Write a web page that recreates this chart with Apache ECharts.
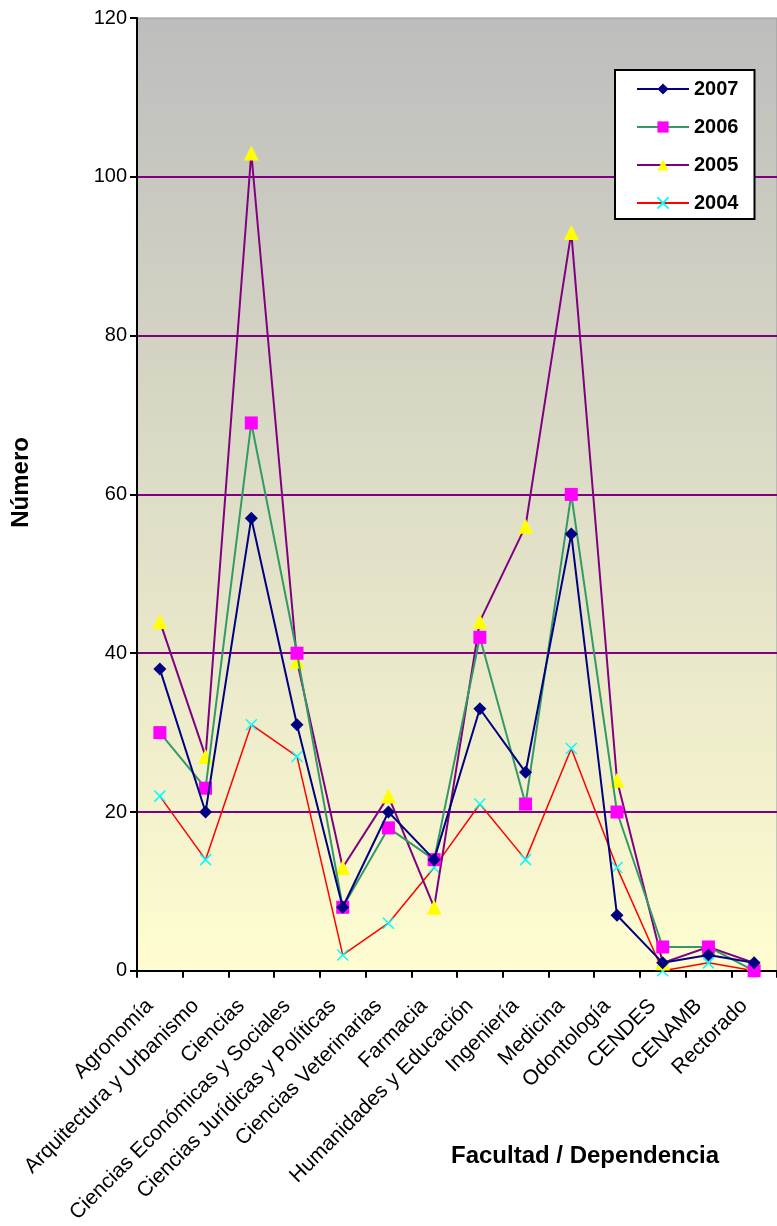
<!DOCTYPE html>
<html>
<head>
<meta charset="utf-8">
<script src="https://cdn.jsdelivr.net/npm/echarts@6/dist/echarts.min.js"></script>
<style>
html,body{margin:0;padding:0;background:#fff;}
#c{width:777px;height:1226px;}
</style>
</head>
<body>
<div id="c"></div>
<script>
const categories = ['Agronomía','Arquitectura y Urbanismo','Ciencias','Ciencias Económicas y Sociales','Ciencias Jurídicas y Políticas','Ciencias Veterinarias','Farmacia','Humanidades y Educación','Ingeniería','Medicina','Odontología','CENDES','CENAMB','Rectorado'];
const s2007 = [38,20,57,31,8,20,14,33,25,55,7,1,2,1];
const s2006 = [30,23,69,40,8,18,14,42,21,60,20,3,3,0];
const s2005 = [44,27,103,39,13,22,8,44,56,93,24,1,3,1];
const s2004 = [22,14,31,27,2,6,13,21,14,28,13,0,1,0];
const yTicks = [0,20,40,60,80,100,120];

const FONT = "'Liberation Sans', Arial, sans-serif";
const chart = echarts.init(document.getElementById('c'), null, {renderer:'canvas'});
const crossPath = 'path://M0,0L10,10M10,0L0,10';

chart.setOption({
  animation:false,
  backgroundColor:'#ffffff',
  title:{
    text:'Facultad / Dependencia',
    left:451, top:1144, padding:0,
    textStyle:{fontFamily:FONT, fontSize:24, fontWeight:'bold', color:'#000'}
  },
  legend:{
    orient:'vertical',
    left:615, top:70,
    padding:[9,16,6,21],
    itemGap:18,
    itemWidth:52, itemHeight:14,
    backgroundColor:'#ffffff',
    borderColor:'#000', borderWidth:2,
    textStyle:{fontFamily:FONT, fontSize:20, fontWeight:'bold', color:'#000'},
    data:['2007','2006','2005','2004']
  },
  grid:{
    left:137, top:18, width:646, height:955,
    show:true,
    borderColor:'#999999', borderWidth:1,
    backgroundColor:{type:'linear', x:0, y:0, x2:0, y2:1, colorStops:[
      {offset:0, color:'#bdbdbd'},
      {offset:1, color:'#fffdd0'}
    ]}
  },
  xAxis:{
    type:'category',
    data:categories,
    boundaryGap:true,
    axisLine:{lineStyle:{color:'#000', width:2}},
    axisTick:{show:true, length:7, lineStyle:{color:'#000', width:2}, alignWithLabel:false},
    axisLabel:{rotate:45, interval:0, margin:22, padding:[0,14,0,0], fontFamily:FONT, fontSize:21, color:'#000'},
    splitLine:{show:false}
  },
  yAxis:{
    type:'value',
    min:yTicks[0], max:yTicks[yTicks.length-1], interval:20,
    name:'Número',
    nameLocation:'middle',
    nameRotate:90,
    nameGap:104,
    nameTextStyle:{fontFamily:FONT, fontSize:24, fontWeight:'bold', color:'#000', padding:[0,0,0,24]},
    axisLine:{show:true, lineStyle:{color:'#000', width:2}},
    axisTick:{show:true, length:7, lineStyle:{color:'#000', width:2}},
    axisLabel:{fontFamily:FONT, fontSize:20, color:'#000', margin:10},
    splitLine:{show:true, showMinLine:false, showMaxLine:false, lineStyle:{color:'#800080', width:2}}
  },
  series:[
    {name:'2007', type:'line', data:s2007, symbol:'diamond', symbolSize:13,
     lineStyle:{color:'#000080', width:2}, itemStyle:{color:'#000080'}, z:5},
    {name:'2006', type:'line', data:s2006, symbol:'rect', symbolSize:13,
     lineStyle:{color:'#339966', width:2}, itemStyle:{color:'#ff00ff'}, z:4},
    {name:'2005', type:'line', data:s2005, symbol:'triangle', symbolSize:15,
     lineStyle:{color:'#800080', width:2}, itemStyle:{color:'#ffff00'}, z:3},
    {name:'2004', type:'line', data:s2004, symbol:crossPath, symbolSize:11,
     lineStyle:{color:'#ff0000', width:1.5}, itemStyle:{color:'#00ffff', borderColor:'#00ffff', borderWidth:1.5}, z:2}
  ]
});
</script>
</body>
</html>
